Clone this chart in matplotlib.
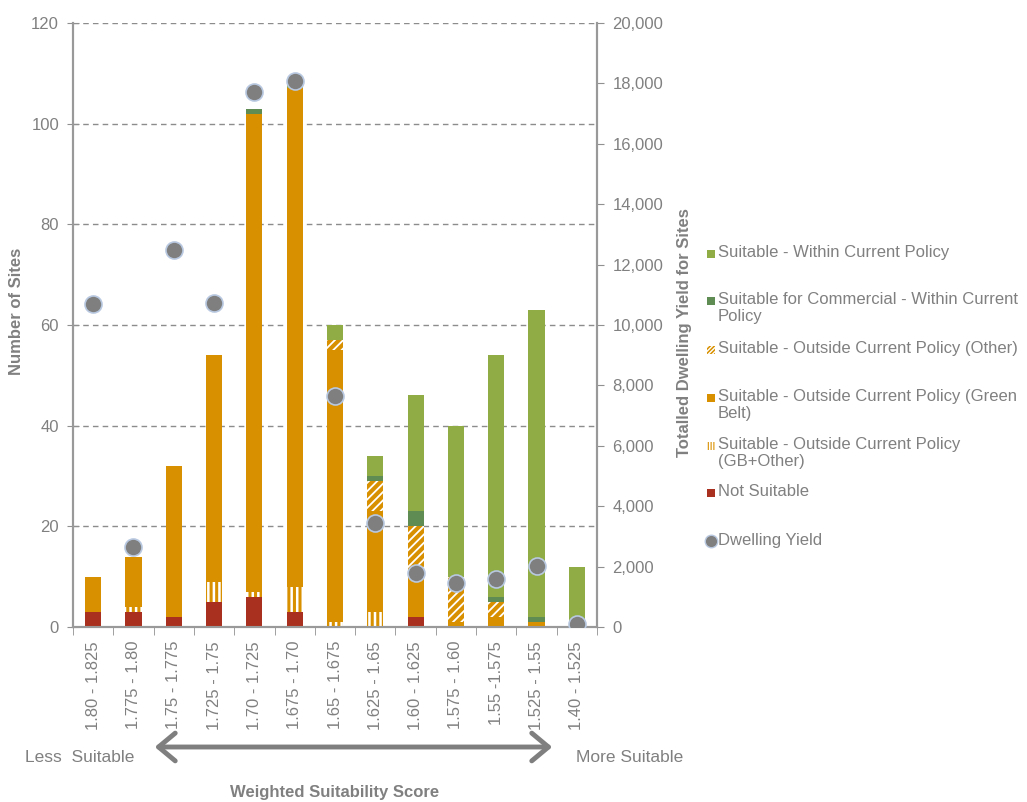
import numpy as np
import matplotlib
matplotlib.use('Agg')
import matplotlib.pyplot as plt
import matplotlib.patches as patches

plt.rcParams['font.family'] = ['Liberation Sans', 'DejaVu Sans']

# score bands (less suitable -> more suitable)
bands = ['1.80 - 1.825', '1.775 - 1.80', '1.75 - 1.775', '1.725 - 1.75',
         '1.70 - 1.725', '1.675 - 1.70', '1.65 - 1.675', '1.625 - 1.65',
         '1.60 - 1.625', '1.575 - 1.60', '1.55 -1.575', '1.525 - 1.55',
         '1.40 - 1.525']

# number of sites per category (stack order bottom -> top)
not_suitable = [3, 3, 2, 5, 6, 3, 0, 0, 2, 0, 0, 0, 0]
gb_other     = [0, 1, 0, 4, 1, 5, 1, 3, 0, 0, 0, 0, 0]
green_belt   = [7, 10, 30, 45, 95, 99, 54, 20, 9, 1, 2, 1, 0]
other        = [0, 0, 0, 0, 0, 0, 2, 6, 9, 9, 3, 0, 0]
commercial   = [0, 0, 0, 0, 1, 0, 0, 1, 3, 0, 1, 1, 0]
within       = [0, 0, 0, 0, 0, 1, 3, 4, 23, 30, 48, 61, 12]

# totalled dwelling yield
dwelling = [10700, 2650, 12480, 10730, 17700, 18090, 7650, 3430,
            1780, 1450, 1580, 2030, 90]

C_WITHIN = '#8fac45'
C_COMM = '#5e8c52'
C_ORANGE = '#d99000'
C_RED = '#a9301f'
C_DOT = '#7f7f7f'
GREY = '#808080'

fig = plt.figure(figsize=(10.27, 8.02), dpi=100)
ax = fig.add_axes([73/1027, 1-627/802, 524/1027, 604/802])
ax2 = ax.twinx()

x = np.arange(len(bands))
w = 0.4
bottom = np.zeros(len(bands))
# (values, style, hatch line width)
stack = [
    (not_suitable, dict(color=C_RED), 1.0),
    (gb_other, dict(color=C_ORANGE, edgecolor='white', hatch='|||', linewidth=0), 1.8),
    (green_belt, dict(color=C_ORANGE), 1.0),
    (other, dict(color=C_ORANGE, edgecolor='white', hatch='////', linewidth=0), 1.3),
    (commercial, dict(color=C_COMM), 1.0),
    (within, dict(color=C_WITHIN), 1.0),
]
for vals, kw, hlw in stack:
    vals = np.array(vals, dtype=float)
    with plt.rc_context({'hatch.linewidth': hlw}):
        ax.bar(x, vals, w, bottom=bottom, zorder=3, **kw)
    bottom += vals

ax2.scatter(x, dwelling, s=150, color=C_DOT, edgecolor='#b8c8e0',
            linewidth=1.2, zorder=5)
ax.set_zorder(1)
ax.patch.set_visible(False)
ax2.set_zorder(2)

ax.set_xlim(-0.5, len(bands) - 0.5)
ax.set_ylim(0, 120)
ax2.set_ylim(0, 20000)
ax.set_yticks(range(0, 121, 20))
ax2.set_yticks(range(0, 20001, 2000))
ax2.set_yticklabels(['{:,}'.format(v) for v in range(0, 20001, 2000)])
ax.yaxis.grid(True, linestyle=(0, (4, 3)), color='#8c8c8c', linewidth=1, zorder=0)
ax.set_axisbelow(True)

ax.set_xticks(x)
ax.set_xticklabels(bands, rotation=90, fontsize=12, color=GREY)
ax.set_xticks(np.arange(-0.5, len(bands), 1), minor=True)
ax.tick_params(axis='x', which='major', length=0, pad=10)
ax.tick_params(axis='x', which='minor', length=6, direction='out', color='#909090')
ax.tick_params(axis='y', length=8, direction='inout', color='#909090',
               labelsize=12, labelcolor=GREY, pad=6)
ax2.tick_params(axis='y', length=5, direction='out', color='#909090',
                labelsize=12, labelcolor=GREY, pad=6)

for a in (ax, ax2):
    a.spines['top'].set_visible(False)
    for s in ('left', 'right', 'bottom'):
        a.spines[s].set_color('#999999')
        a.spines[s].set_linewidth(1.5)

fig.text(17/1027, 1-311/802, 'Number of Sites', rotation=90, ha='center',
         va='center', fontsize=12, fontweight='bold', color=GREY)
fig.text(684/1027, 1-333/802, 'Totalled Dwelling Yield for Sites', rotation=90,
         ha='center', va='center', fontsize=12, fontweight='bold', color=GREY)
fig.text(335/1027, 1-793/802, 'Weighted Suitability Score', ha='center',
         va='center', fontsize=12, fontweight='bold', color=GREY)
fig.text(80/1027, 1-757/802, 'Less  Suitable', ha='center', va='center',
         fontsize=12.5, color=GREY)
fig.text(630/1027, 1-757/802, 'More Suitable', ha='center', va='center',
         fontsize=12.5, color=GREY)
fig.patches.append(patches.FancyArrowPatch(
    (152/1027, 1-747/802), (555/1027, 1-747/802), transform=fig.transFigure,
    arrowstyle='<->,head_length=6,head_width=5', color='#7f7f7f',
    linewidth=3.5, mutation_scale=2))

# legend drawn by hand so that wrapped labels keep Excel-like spacing
legend_items = [
    ('Suitable - Within Current Policy', dict(facecolor=C_WITHIN), 254, 1.0),
    ('Suitable for Commercial - Within Current\nPolicy', dict(facecolor=C_COMM), 301, 1.0),
    ('Suitable - Outside Current Policy (Other)',
     dict(facecolor=C_ORANGE, edgecolor='white', hatch='////////'), 350, 1.0),
    ('Suitable - Outside Current Policy (Green\nBelt)', dict(facecolor=C_ORANGE), 398, 1.0),
    ('Suitable - Outside Current Policy\n(GB+Other)',
     dict(facecolor=C_ORANGE, edgecolor='white', hatch='||||||'), 446, 1.2),
    ('Not Suitable', dict(facecolor=C_RED), 493, 1.0),
]
for label, kw, yp, hlw in legend_items:
    with plt.rc_context({'hatch.linewidth': hlw}):
        fig.patches.append(patches.Rectangle(
            (707/1027, 1-(yp+4)/802), 8/1027, 8/802, transform=fig.transFigure,
            linewidth=0, **kw))
    fig.text(718/1027, 1-(yp-9)/802, label, ha='left', va='top', fontsize=12,
             color=GREY, linespacing=1.15)
fig.add_artist(plt.Line2D([711/1027], [1-541/802], marker='o', markersize=9,
                          color=C_DOT, markeredgecolor='#b8c8e0', transform=fig.transFigure))
fig.text(718/1027, 1-541/802, 'Dwelling Yield', ha='left', va='center',
         fontsize=12, color=GREY)

fig.savefig('out.png', dpi=100)
